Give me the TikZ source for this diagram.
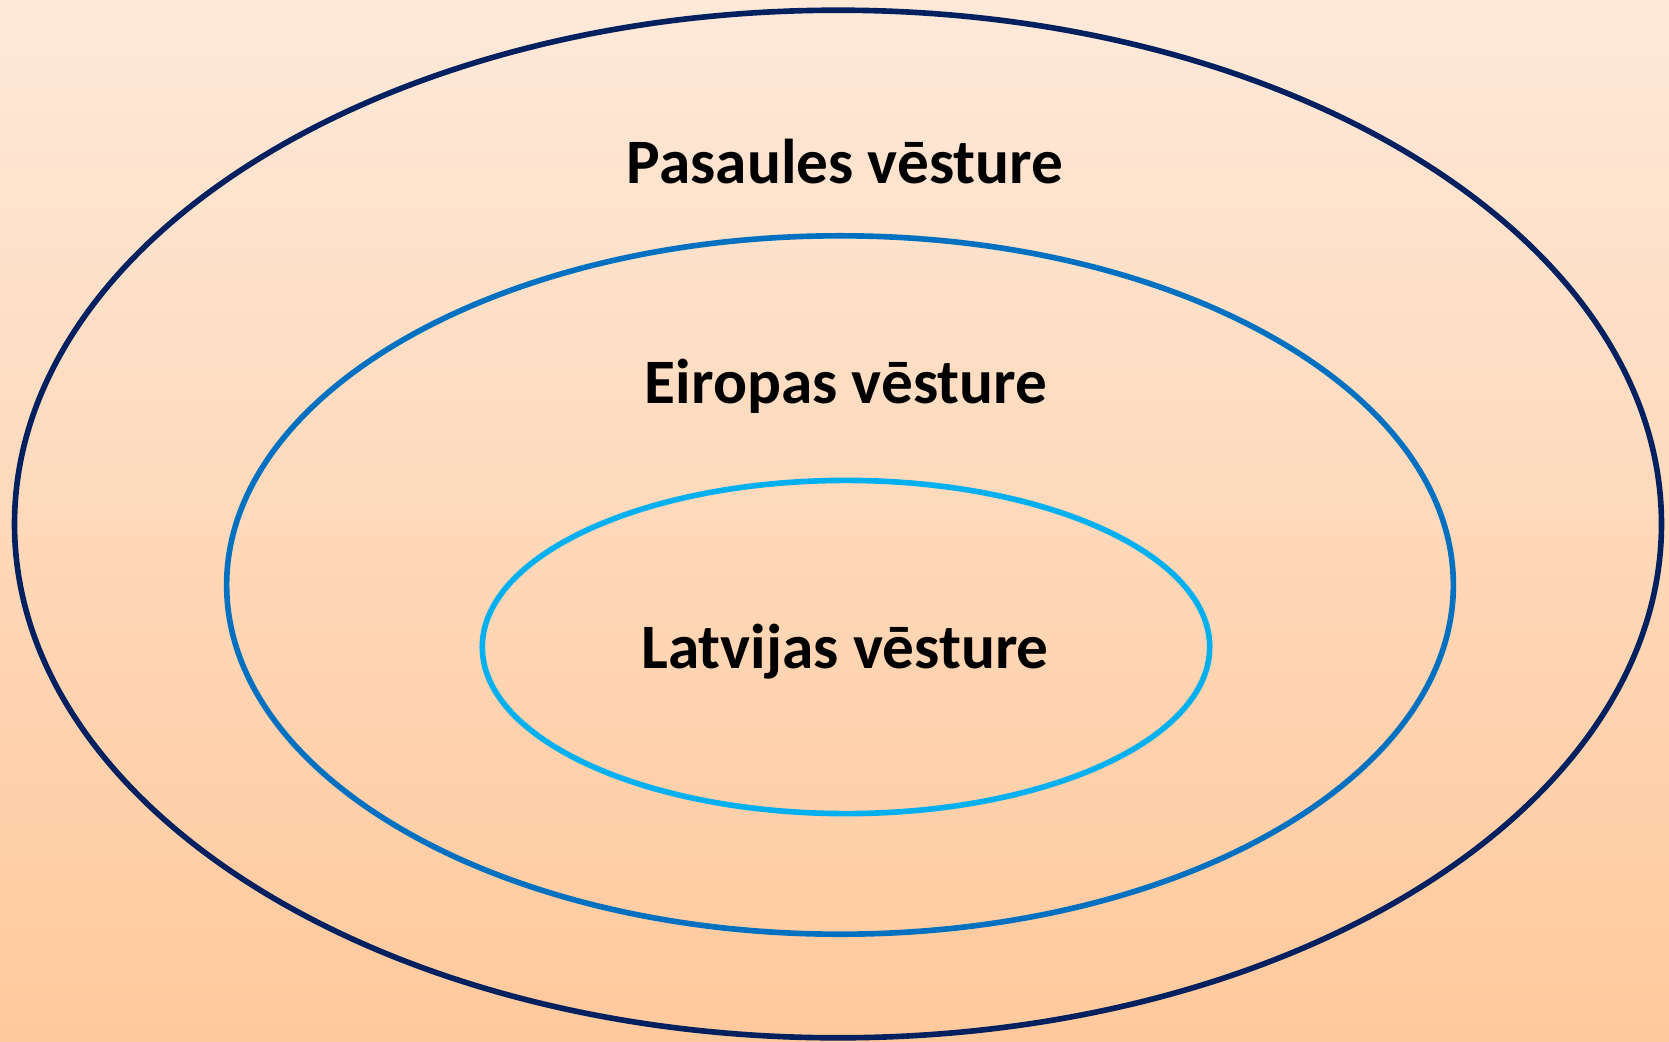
\documentclass[tikz,border=0pt]{standalone}
\usepackage{fontspec}
\setmainfont{Carlito}
\usepackage{xcolor}
\usepackage{tikz}
\usetikzlibrary{shapes.geometric}
\definecolor{bgtop}{RGB}{254,233,217}
\definecolor{bgbottom}{RGB}{255,201,156}
\definecolor{ringdark}{RGB}{0,32,96}
\definecolor{ringmid}{RGB}{0,112,192}
\definecolor{ringlight}{RGB}{0,176,240}
\tikzset{
  ring/.style={ellipse, line width=1.6pt, inner sep=0pt},
  hlabel/.style={font=\fontsize{18}{22}\selectfont\bfseries, text=black, anchor=base, inner sep=0pt},
}

\begin{document}
\begin{tikzpicture}[x=0.01cm, y=-0.01cm]
  % background
  \shade[top color=bgtop, bottom color=bgbottom] (0,0) rectangle (1669,1042);
  \useasboundingbox (0,0) rectangle (1669,1042);
  % rings
  \node[ring, draw=ringdark, minimum width=16.46cm, minimum height=10.27cm] (world) at (838,524) {};
  \node[ring, draw=ringmid, minimum width=12.26cm, minimum height=6.98cm] (europe) at (840,585) {};
  \node[ring, draw=ringlight, minimum width=7.27cm, minimum height=3.33cm] (latvia) at (846,647) {};
  % labels
  \node[hlabel] (tworld) at (845,183) {Pasaules vēsture};
  \node[hlabel] (teurope) at (846,403) {Eiropas vēsture};
  \node[hlabel] (tlatvia) at (845,668) {Latvijas vēsture};
\end{tikzpicture}
\end{document}
